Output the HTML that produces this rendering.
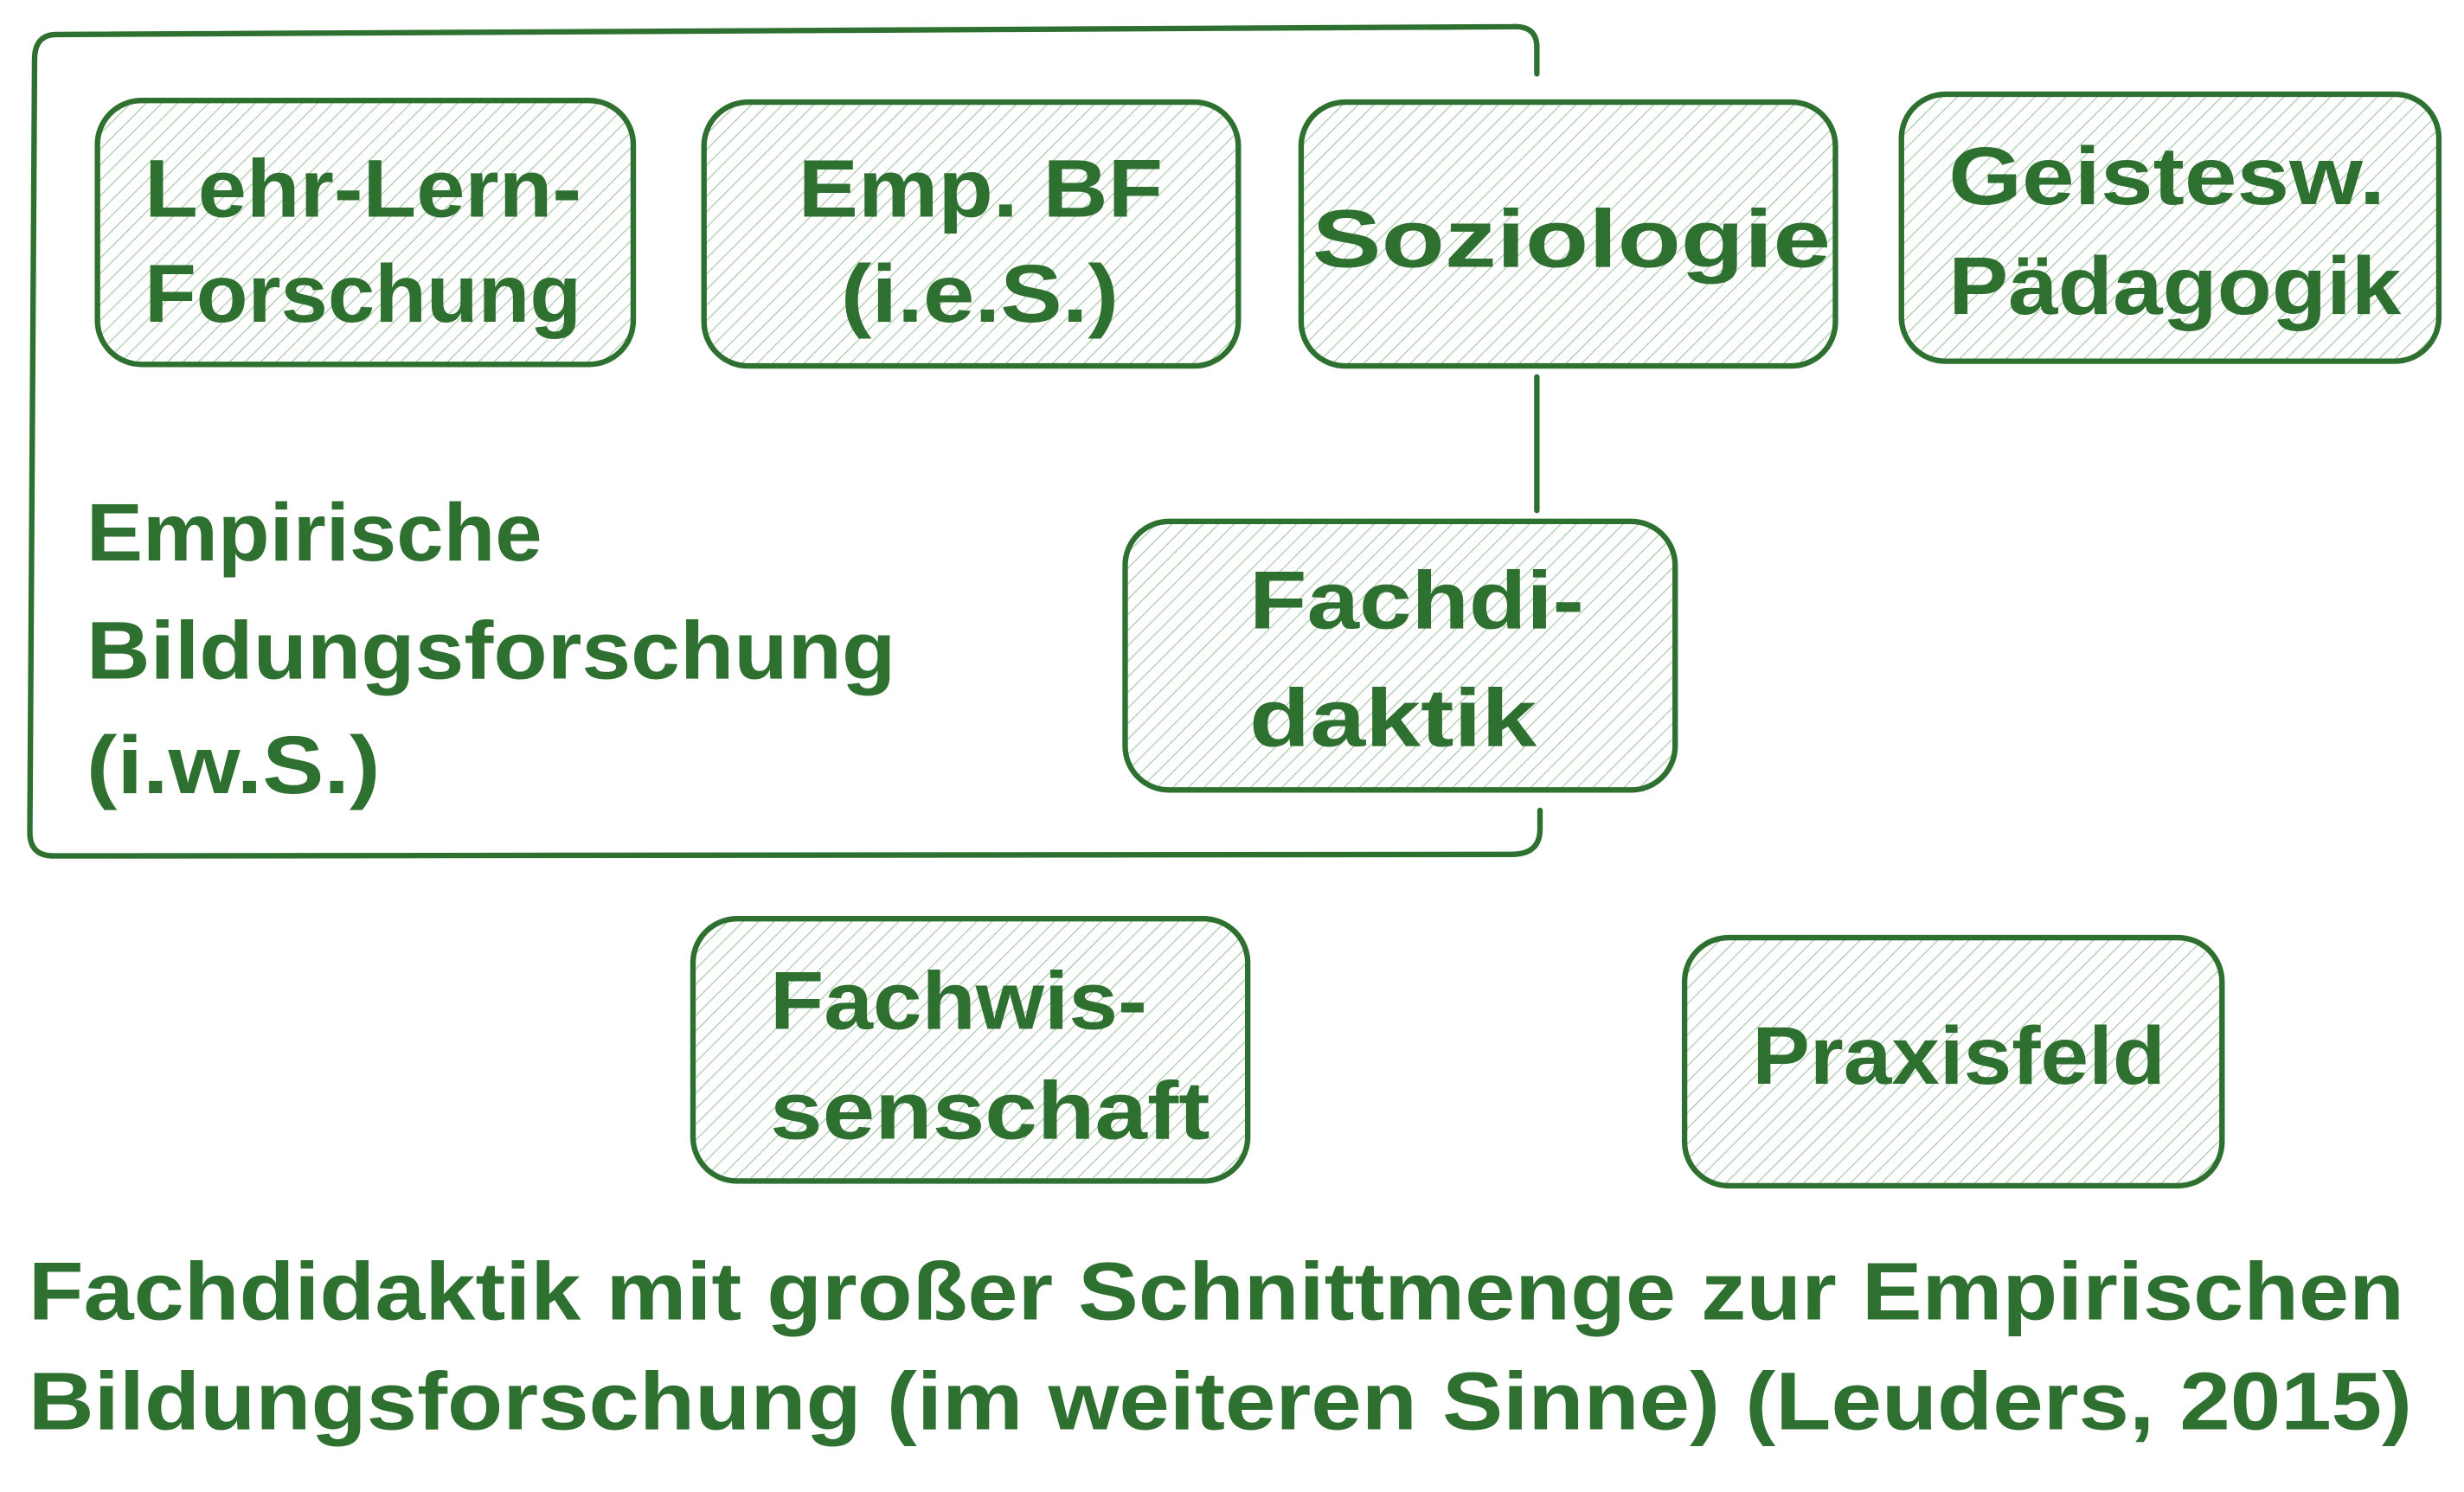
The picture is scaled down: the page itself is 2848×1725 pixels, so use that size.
<!DOCTYPE html>
<html><head><meta charset="utf-8"><style>
html,body{margin:0;padding:0;background:#fff;}
svg{display:block;}
text{font-family:"Liberation Sans",sans-serif;fill:#2e7030;font-weight:bold;}
</style></head><body>
<svg width="2848" height="1725" viewBox="0 0 1568 950" preserveAspectRatio="none" xmlns="http://www.w3.org/2000/svg">
<defs>
<pattern id="h" patternUnits="userSpaceOnUse" width="7" height="7" patternTransform="rotate(45)">
<line x1="0" y1="0" x2="0" y2="7" stroke="#2e7d32" stroke-opacity="0.45" stroke-width="1.2"/>
</pattern>
</defs>
<g fill="none" stroke="#2e7030" stroke-width="3.5" stroke-linecap="round">
<path d="M978,47 L978,30 Q978,16 962,17 L36,22 Q22,22 22,38 L19,530 Q19,545 34,545 L962,544 Q980,544 980,528 L980,516"/>
<line x1="978" y1="240" x2="978" y2="325"/>
</g>
<g stroke="#2e7030" stroke-width="3.5" fill="url(#h)">
<rect x="62" y="64" width="341" height="168" rx="28"/>
<rect x="448" y="65" width="340" height="168" rx="28"/>
<rect x="828" y="65" width="340" height="168" rx="28"/>
<rect x="1210" y="60" width="342" height="170" rx="28"/>
<rect x="716" y="332" width="350" height="171" rx="28"/>
<rect x="441" y="585" width="353" height="167" rx="28"/>
<rect x="1072" y="597" width="342" height="158" rx="28"/>
</g>
<g font-size="52">
<text x="92" y="138" textLength="278" lengthAdjust="spacingAndGlyphs">Lehr-Lern-</text>
<text x="92" y="205" textLength="278" lengthAdjust="spacingAndGlyphs">Forschung</text>
<text x="508" y="138" textLength="232" lengthAdjust="spacingAndGlyphs">Emp. BF</text>
<text x="535" y="205" textLength="177" lengthAdjust="spacingAndGlyphs">(i.e.S.)</text>
<text x="835" y="170" textLength="330" lengthAdjust="spacingAndGlyphs">Soziologie</text>
<text x="1240" y="130" textLength="278" lengthAdjust="spacingAndGlyphs">Geistesw.</text>
<text x="1240" y="200" textLength="288" lengthAdjust="spacingAndGlyphs">Pädagogik</text>
<text x="795" y="400" textLength="213" lengthAdjust="spacingAndGlyphs">Fachdi-</text>
<text x="795" y="475" textLength="183" lengthAdjust="spacingAndGlyphs">daktik</text>
<text x="490" y="655" textLength="240" lengthAdjust="spacingAndGlyphs">Fachwis-</text>
<text x="490" y="725" textLength="280" lengthAdjust="spacingAndGlyphs">senschaft</text>
<text x="1115" y="690" textLength="263" lengthAdjust="spacingAndGlyphs">Praxisfeld</text>
<text x="55" y="357" textLength="290" lengthAdjust="spacingAndGlyphs">Empirische</text>
<text x="55" y="432" textLength="515" lengthAdjust="spacingAndGlyphs">Bildungsforschung</text>
<text x="55" y="505" textLength="187" lengthAdjust="spacingAndGlyphs">(i.w.S.)</text>
</g>
<g font-size="52">
<text x="18" y="840" textLength="1512" lengthAdjust="spacingAndGlyphs">Fachdidaktik mit großer Schnittmenge zur Empirischen</text>
<text x="18" y="910" textLength="1517" lengthAdjust="spacingAndGlyphs">Bildungsforschung (im weiteren Sinne) (Leuders, 2015)</text>
</g>
</svg>
</body></html>
